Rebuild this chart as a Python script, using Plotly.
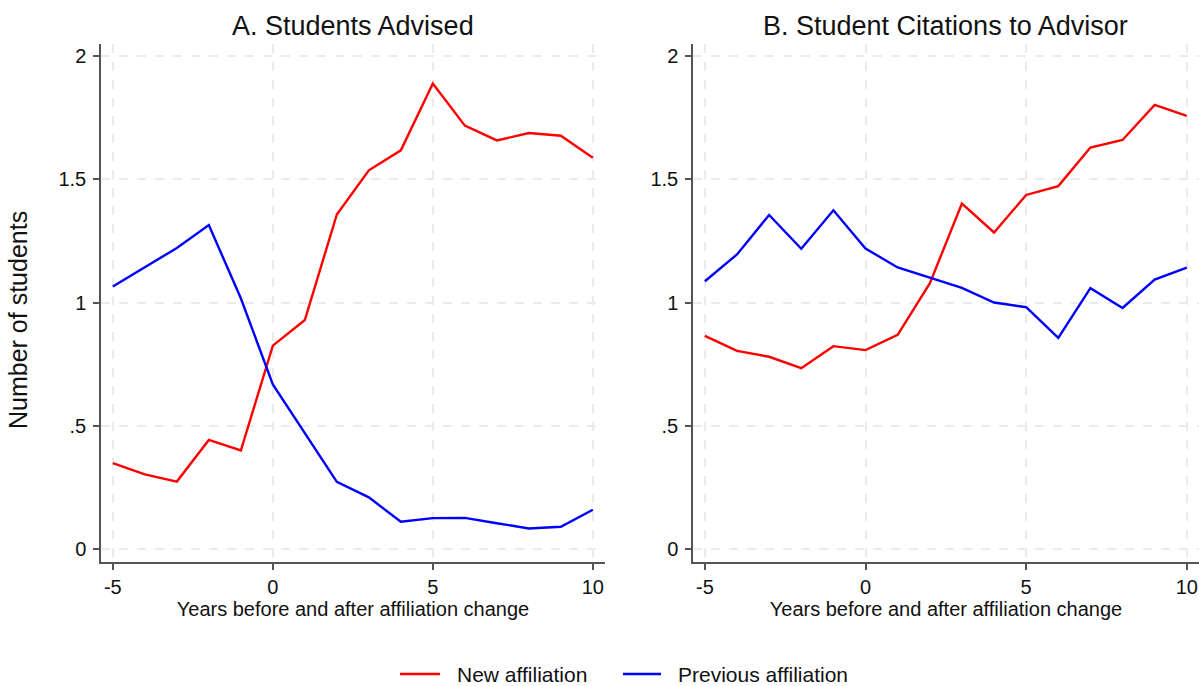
import plotly.graph_objects as go

# years relative to the affiliation change
years = list(range(-5, 11))

# panel A: students advised
a_new = [0.349, 0.303, 0.274, 0.443, 0.400, 0.825, 0.929, 1.357, 1.536, 1.617,
         1.888, 1.717, 1.657, 1.687, 1.676, 1.587]
a_prev = [1.065, 1.143, 1.221, 1.314, 1.017, 0.668, 0.470, 0.273, 0.210, 0.111,
          0.126, 0.127, 0.105, 0.084, 0.091, 0.160]

# panel B: student citations to advisor
b_new = [0.865, 0.804, 0.780, 0.734, 0.823, 0.807, 0.869, 1.077, 1.401, 1.284,
         1.436, 1.472, 1.628, 1.659, 1.801, 1.757]
b_prev = [1.086, 1.195, 1.355, 1.218, 1.374, 1.219, 1.142, 1.101, 1.059, 1.000,
          0.981, 0.857, 1.058, 0.978, 1.093, 1.141]

panel_titles = ["A. Students Advised", "B. Student Citations to Advisor"]
series_names = ["New affiliation", "Previous affiliation"]
x_ticks = [-5, 0, 5, 10]
x_labels = ["-5", "0", "5", "10"]
y_ticks = [0, 0.5, 1, 1.5, 2]
y_labels = ["0", ".5", "1", "1.5", "2"]

W, H = 1199, 686
FONT = "Liberation Sans, Arial, sans-serif"
TXT = "#111111"
AX = "#555555"
RED = "#ff0000"
BLUE = "#0000ff"

fig = go.Figure()

panels = [("x", "y", a_new, a_prev), ("x2", "y2", b_new, b_prev)]
for xa, ya, new, prev in panels:
    fig.add_trace(go.Scatter(x=years, y=new, mode="lines", name=series_names[0],
                             line=dict(color=RED, width=2.4), xaxis=xa, yaxis=ya))
    fig.add_trace(go.Scatter(x=years, y=prev, mode="lines", name=series_names[1],
                             line=dict(color=BLUE, width=2.4), xaxis=xa, yaxis=ya))

y_dom = [1 - 562 / H, 1 - 44 / H]
xa_dom = [101 / W, 605 / W]
xb_dom = [693 / W, 1.0]

xcommon = dict(range=[-5.37, 10.38], tickvals=x_ticks, ticktext=x_labels,
               ticks="outside", ticklen=6, tickcolor=AX, tickwidth=1.5,
               showline=True, linecolor=AX, linewidth=1.5, showgrid=True,
               gridcolor="#ebebeb", griddash="dash", gridwidth=1.5, zeroline=False,
               tickfont=dict(size=20, color=TXT), ticklabelstandoff=0,
               title=dict(text="Years before and after affiliation change",
                          font=dict(size=20, color=TXT), standoff=4))
ycommon = dict(range=[-0.052, 2.048], tickvals=y_ticks, ticktext=y_labels,
               ticks="outside", ticklen=6, tickcolor=AX, tickwidth=1.5,
               showline=True, linecolor=AX, linewidth=1.5, showgrid=True,
               gridcolor="#ebebeb", griddash="dash", gridwidth=1.5, zeroline=False,
               tickfont=dict(size=20, color=TXT), ticklabelstandoff=3)

fig.update_layout(
    width=W, height=H,
    margin=dict(l=0, r=0, t=0, b=0),
    paper_bgcolor="white", plot_bgcolor="white",
    font=dict(family=FONT, color=TXT),
    xaxis=dict(domain=xa_dom, anchor="y", **xcommon),
    yaxis=dict(domain=y_dom, anchor="x", **ycommon),
    xaxis2=dict(domain=xb_dom, anchor="y2", **xcommon),
    yaxis2=dict(domain=y_dom, anchor="x2", **ycommon),
    showlegend=False,
)

for i, t in enumerate(panel_titles):
    dom = xa_dom if i == 0 else xb_dom
    fig.add_annotation(text=t, x=(dom[0] + dom[1]) / 2, y=1 - 26 / H,
                       xref="paper", yref="paper", showarrow=False,
                       font=dict(size=27, color=TXT), xanchor="center", yanchor="middle")

fig.add_annotation(text="Number of students", textangle=-90, x=18 / W, y=1 - 320 / H,
                   xref="paper", yref="paper", showarrow=False,
                   font=dict(size=25, color=TXT), xanchor="center", yanchor="middle")

# legend drawn by hand: short line key, then label
legend_y = 1 - 674 / H
for name, col, x0, x1 in [(series_names[0], RED, 400, 440),
                          (series_names[1], BLUE, 623, 661)]:
    fig.add_shape(type="line", xref="paper", yref="paper", x0=x0 / W, x1=x1 / W,
                  y0=legend_y, y1=legend_y, line=dict(color=col, width=2.4))
    fig.add_annotation(text=name, x=(x1 + 15) / W, y=legend_y, xref="paper",
                       yref="paper", showarrow=False, xanchor="left",
                       yanchor="middle", font=dict(size=21, color=TXT))

fig.write_html("out.html", config={"displayModeBar": False},
               post_script="document.body.style.margin='0';")
